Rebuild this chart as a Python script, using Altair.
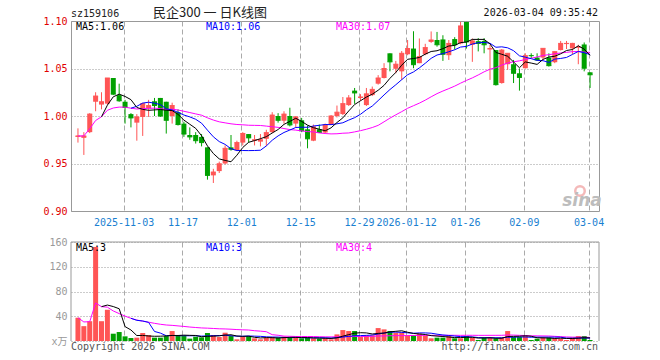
import altair as alt
import pandas as pd

# ---------------- data ----------------
dates = [
    "2025-10-22", "2025-10-23", "2025-10-24", "2025-10-27", "2025-10-28", "2025-10-29", "2025-10-30", "2025-10-31",
    "2025-11-03", "2025-11-04", "2025-11-05", "2025-11-06", "2025-11-07", "2025-11-10", "2025-11-11", "2025-11-12",
    "2025-11-13", "2025-11-14", "2025-11-17", "2025-11-18", "2025-11-19", "2025-11-20", "2025-11-21", "2025-11-24",
    "2025-11-25", "2025-11-26", "2025-11-27", "2025-11-28",
    "2025-12-01", "2025-12-02", "2025-12-03", "2025-12-04", "2025-12-05", "2025-12-08", "2025-12-09", "2025-12-10",
    "2025-12-11", "2025-12-12", "2025-12-15", "2025-12-16", "2025-12-17", "2025-12-18", "2025-12-19", "2025-12-22",
    "2025-12-23", "2025-12-24", "2025-12-25", "2025-12-26", "2025-12-29", "2025-12-30", "2025-12-31",
    "2026-01-05", "2026-01-06", "2026-01-07", "2026-01-08", "2026-01-09", "2026-01-12", "2026-01-13", "2026-01-14",
    "2026-01-15", "2026-01-16", "2026-01-19", "2026-01-20", "2026-01-21", "2026-01-22", "2026-01-23", "2026-01-26",
    "2026-01-27", "2026-01-28", "2026-01-29", "2026-01-30",
    "2026-02-02", "2026-02-03", "2026-02-04", "2026-02-05", "2026-02-06", "2026-02-09", "2026-02-10", "2026-02-11",
    "2026-02-12", "2026-02-13", "2026-02-24", "2026-02-25", "2026-02-26", "2026-02-27",
    "2026-03-02", "2026-03-03", "2026-03-04",
]
opens = [
    0.978, 0.977, 0.983, 1.015, 1.012, 1.013, 1.040, 1.022, 1.015, 1.002,
    0.993, 0.999, 1.008, 1.0155, 1.019, 1.015, 1.000, 1.004, 0.992, 0.980,
    0.980, 0.978, 0.967, 0.9375, 0.942, 0.950, 0.967, 0.964, 0.972, 0.981,
    0.974, 0.973, 0.976, 0.983, 1.000, 0.995, 1.000, 0.992, 0.9955, 0.986,
    0.974, 0.986, 0.9826, 0.9906, 1.000, 1.002, 1.0115, 1.0267, 1.019, 1.0115,
    1.022, 1.034, 1.040, 1.066, 1.0497, 1.047, 1.065, 1.071, 1.0556, 1.065,
    1.078, 1.080, 1.0806, 1.064, 1.081, 1.0764, 1.099, 1.075, 1.0788, 1.079,
    1.070, 1.0694, 1.0347, 1.0545, 1.0545, 1.045, 1.0503, 1.064, 1.0615, 1.0615,
    1.0615, 1.0566, 1.0694, 1.0757, 1.0712, 1.072, 1.0753, 1.046,
]
closes = [
    0.979, 0.979, 1.002, 1.021, 1.015, 1.040, 1.023, 1.016, 1.009, 0.998,
    0.999, 1.013, 1.011, 1.011, 1.000, 0.9955, 1.011, 0.991, 0.981, 0.978,
    0.974, 0.972, 0.9375, 0.941, 0.9497, 0.966, 0.965, 0.972, 0.9816, 0.977,
    0.975, 0.975, 0.9825, 1.001, 0.9955, 1.002, 0.9906, 0.999, 0.9844, 0.976,
    0.9885, 0.9826, 0.9906, 1.000, 1.004, 1.013, 1.019, 1.0243, 1.020, 1.0233,
    1.028, 1.040, 1.050, 1.057, 1.0545, 1.066, 1.071, 1.054, 1.0625, 1.072,
    1.080, 1.075, 1.065, 1.0764, 1.075, 1.0948, 1.078, 1.079, 1.0764, 1.075,
    1.071, 1.033, 1.0694, 1.066, 1.045, 1.0406, 1.0635, 1.0635, 1.059, 1.0712,
    1.053, 1.0677, 1.0764, 1.0764, 1.0764, 1.0725, 1.0503, 1.0434,
]
highs = [
    0.987, 0.983, 1.003, 1.025, 1.025, 1.040, 1.040, 1.034, 1.017, 1.003,
    1.002, 1.014, 1.017, 1.019, 1.019, 1.015, 1.014, 1.007, 0.994, 0.988,
    0.983, 0.981, 0.967, 0.9444, 0.952, 0.969, 0.980, 0.974, 0.983, 0.981,
    0.980, 0.981, 0.9855, 1.004, 1.003, 1.005, 1.0087, 1.000, 0.998, 0.990,
    0.991, 0.991, 0.992, 1.001, 1.011, 1.020, 1.022, 1.0295, 1.023, 1.0295,
    1.031, 1.043, 1.0556, 1.066, 1.058, 1.0684, 1.080, 1.0892, 1.0816, 1.076,
    1.089, 1.0885, 1.085, 1.080, 1.083, 1.099, 1.099, 1.0816, 1.082, 1.082,
    1.0747, 1.0694, 1.0705, 1.066, 1.059, 1.050, 1.066, 1.066, 1.066, 1.0712,
    1.066, 1.068, 1.079, 1.079, 1.077, 1.075, 1.0774, 1.046,
]
lows = [
    0.972, 0.959, 0.982, 1.005, 1.007, 1.012, 1.022, 1.015, 0.992, 0.988,
    0.974, 0.979, 0.999, 1.000, 0.999, 0.9815, 0.992, 0.990, 0.978, 0.975,
    0.971, 0.968, 0.933, 0.9295, 0.940, 0.949, 0.9635, 0.963, 0.969, 0.972,
    0.969, 0.968, 0.9685, 0.982, 0.993, 0.992, 0.989, 0.988, 0.983, 0.966,
    0.9735, 0.9826, 0.9815, 0.9906, 0.9985, 1.001, 1.0105, 1.0128, 1.016, 1.0105,
    1.021, 1.033, 1.0395, 1.047, 1.045, 1.038, 1.064, 1.0503, 1.0556, 1.064,
    1.077, 1.073, 1.058, 1.059, 1.070, 1.0755, 1.071, 1.057, 1.068, 1.066,
    1.038, 1.032, 1.034, 1.0486, 1.0347, 1.0267, 1.050, 1.061, 1.058, 1.059,
    1.052, 1.0556, 1.069, 1.0705, 1.065, 1.0545, 1.047, 1.0295,
]
volumes = [
    37.6, 24, 32, 152, 32, 50.5, 11.8, 14.5, 7.5, 4.8,
    5.4, 12.9, 9.7, 5.4, 5.4, 8, 16.1, 9.7, 8, 3.8,
    7, 5.9, 12.9, 9.7, 6.4, 13.4, 8, 2.7, 7, 8,
    4.3, 2.7, 5.4, 6.4, 5.4, 7, 5.4, 5.4, 4.3, 5.4,
    4.3, 3.8, 4.3, 2.7, 10.7, 17.7, 16.1, 16.1, 6.4, 9.1,
    9.1, 20.9, 18.8, 16.1, 13.4, 13.4, 9.1, 9.1, 11.8, 9.1,
    4.3, 5.4, 5.4, 8, 4.3, 4.3, 8, 5.4, 1.6, 5.4,
    5.4, 4.3, 5.4, 16.1, 6.4, 6.4, 8, 1.6, 3.8, 5.4,
    5.4, 4.3, 3.8, 1.6, 5.4, 8, 8, 1.6,
]
tick_dates = ["2025-11-03", "2025-11-17", "2025-12-01", "2025-12-15", "2025-12-29",
              "2026-01-12", "2026-01-26", "2026-02-09", "2026-03-04"]
tick_labels = ["2025-11-03", "11-17", "12-01", "12-15", "12-29",
               "2026-01-12", "01-26", "02-09", "03-04"]
price_ticks = [0.90, 0.95, 1.00, 1.05, 1.10]
vol_ticks = [0, 40, 80, 120, 160]

# ---------------- style ----------------
RED = "#ff5555"
GREEN = "#00a000"
MONO = "DejaVu Sans Mono"
W, HP, HV = 528, 190, 99
N = len(dates)

df = pd.DataFrame({"i": list(range(N)), "date": dates, "open": opens, "close": closes,
                   "high": highs, "low": lows, "vol": volumes})
df["dir"] = ["up" if c >= o else "down" for o, c in zip(opens, closes)]
df["xl"] = df["i"] - 0.42
df["xr"] = df["i"] + 0.42

tick_idx = [dates.index(d) for d in tick_dates]
label_expr = "''"
for k, lab in reversed(list(zip(tick_idx, tick_labels))):
    label_expr = f"round(datum.value + 0.25) == {k} ? '{lab}' : ({label_expr})"

xscale = alt.Scale(domain=[-1 / 3, N - 1 / 3], nice=False, zero=False)
xaxis_p = alt.Axis(values=[k - 0.25 for k in tick_idx], labelExpr=label_expr, grid=True,
                   gridDash=[5, 3], gridColor="#aaaaaa", ticks=False, domain=False,
                   labelColor="#1a7fd1", labelFont=MONO, labelFontSize=10, labelPadding=6,
                   labelOverlap=False, labelFlush=False, title=None)
xaxis_v = alt.Axis(values=[k - 0.25 for k in tick_idx], labels=False, grid=True,
                   gridDash=[5, 3], gridColor="#aaaaaa", ticks=False, domain=False, title=None)
XP = alt.X("i:Q", scale=xscale, axis=xaxis_p)
XV = alt.X("i:Q", scale=xscale, axis=xaxis_v)

pscale = alt.Scale(domain=[0.90, 1.10], nice=False, zero=False)
paxis = alt.Axis(values=price_ticks, format=".2f", grid=True, gridDash=[1, 2], gridColor="#999999",
                 ticks=False, domain=False, labelColor="#e00000", labelFont=MONO, labelFontSize=10,
                 labelPadding=4, labelFlush=False, minExtent=28, maxExtent=28, title=None)
vscale = alt.Scale(domain=[0, 160], nice=False)
vaxis = alt.Axis(values=vol_ticks, labelExpr="datum.value == 0 ? 'x万' : datum.label", grid=True,
                 gridDash=[1, 2], gridColor="#999999", ticks=False, domain=False,
                 labelColor="#999999", labelFont=MONO + ", Noto Sans CJK SC", labelFontSize=10,
                 labelPadding=4, labelFlush=False, minExtent=28, maxExtent=28, title=None)

COLOR = alt.Color("dir:N", scale=alt.Scale(domain=["up", "down"], range=[RED, GREEN]), legend=None)

base = alt.Chart(df)


def ma_line(field, n, color, X, yscale, yaxis, start):
    ch = base.transform_window(ma=f"mean({field})", frame=[-(n - 1), 0], sort=[alt.SortField("i")])
    if start > 0:
        ch = ch.transform_filter(f"datum.i >= {start}")
    return ch.mark_line(color=color, strokeWidth=1, interpolate="linear").encode(
        x=X, y=alt.Y("ma:Q", scale=yscale, axis=yaxis))


def label(text, color, x, y, size=10, align="left", font=MONO, **kw):
    return alt.Chart(pd.DataFrame({"t": [text]})).mark_text(
        align=align, baseline="alphabetic", font=font, fontSize=size, color=color, **kw
    ).encode(text="t:N", x=alt.value(x), y=alt.value(y))


YP = alt.Y("low:Q", scale=pscale, axis=paxis)
wicks = base.mark_rule(strokeWidth=1).encode(x=XP, y=YP, y2="high:Q", color=COLOR)
bodies = base.mark_bar(size=5).encode(x=XP, y=alt.Y("open:Q", scale=pscale, axis=paxis),
                                      y2="close:Q", color=COLOR)
flats = base.mark_rule(strokeWidth=1).encode(x=alt.X("xl:Q", scale=xscale, axis=xaxis_p), x2="xr:Q",
                                             y=alt.Y("close:Q", scale=pscale, axis=paxis), color=COLOR)

logo_ring = alt.Chart(pd.DataFrame({"k": [0]})).mark_point(
    shape="circle", filled=False, stroke="#f2a8a8", strokeWidth=2.5, size=90, opacity=0.8
).encode(x=alt.value(509), y=alt.value(170))
logo_text = label("sina", "#bdbdbd", 511, 185, size=17, align="center", font="DejaVu Sans",
                  fontWeight="bold", fontStyle="italic")

price = alt.layer(
    wicks, bodies, flats,
    ma_line("close", 30, "#ff00ff", XP, pscale, paxis, 0),
    ma_line("close", 10, "#0000ff", XP, pscale, paxis, 9),
    ma_line("close", 5, "#000000", XP, pscale, paxis, 4),
    logo_ring, logo_text,
    label("MA5:1.06", "#000000", 5, 9),
    label("MA10:1.06", "#0000ff", 135, 9),
    label("MA30:1.07", "#ff00ff", 265, 9),
    label("sz159106", "#222222", 0, -4.5),
    label("民企300 一 日K线图", "#222222", 139, -4, size=13, align="center", font="Noto Sans CJK SC"),
    label("2026-03-04 09:35:42", "#111111", 527, -5, align="right"),
).properties(width=W, height=HP, view=alt.ViewBackground(stroke="#999999", strokeWidth=1))

one = pd.DataFrame({"k": [0]})
border_top = alt.Chart(one).mark_rule(color="#999999", strokeWidth=1).encode(
    x=alt.value(0), x2=alt.value(W), y=alt.value(0))
border_left = alt.Chart(one).mark_rule(color="#999999", strokeWidth=1).encode(
    x=alt.value(0), y=alt.value(0), y2=alt.value(HV))
border_right = alt.Chart(one).mark_rule(color="#999999", strokeWidth=1).encode(
    x=alt.value(W), y=alt.value(0), y2=alt.value(HV))

vbars = base.mark_bar(size=5).encode(x=XV, y=alt.Y("vol:Q", scale=vscale, axis=vaxis), color=COLOR)

volume = alt.layer(
    vbars,
    ma_line("vol", 30, "#ff00ff", XV, vscale, vaxis, 0),
    ma_line("vol", 10, "#0000ff", XV, vscale, vaxis, 9),
    ma_line("vol", 5, "#000000", XV, vscale, vaxis, 4),
    border_top, border_left, border_right,
    label("MA5:3", "#000000", 5, 9),
    label("MA10:3", "#0000ff", 135, 9),
    label("MA30:4", "#ff00ff", 265, 9),
    label("Copyright 2026 SINA.COM", "#555555", 0, 108),
    label("http://finance.sina.com.cn", "#555555", 527, 108, align="right"),
).properties(width=W, height=HV)

chart = alt.vconcat(price, volume, spacing=8).properties(
    padding={"left": 42, "top": 6, "right": 10, "bottom": 4},
    background="white",
).configure_view(stroke="transparent")

chart.save("out.html", embed_options={"renderer": "svg", "actions": False})
